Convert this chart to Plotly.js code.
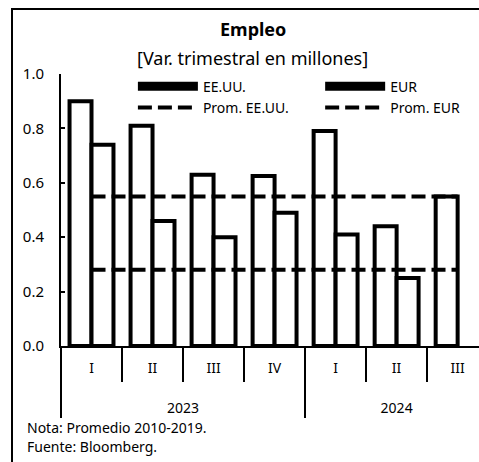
<!DOCTYPE html>
<html>
<head>
<meta charset="utf-8">
<script src="https://cdn.plot.ly/plotly-3.0.1.min.js"></script>
<style>
  html, body { margin: 0; padding: 0; background: #fff; }
  #wrap { position: relative; width: 479px; height: 462px; overflow: hidden; }
  #chart { position: absolute; left: 0; top: 0; width: 479px; height: 462px; }
  #frame { position: absolute; left: 11px; top: 8px; width: 470px; height: 460px;
           border-left: 2px solid #000; border-top: 2px solid #000; pointer-events: none; }
</style>
</head>
<body>
<div id="wrap">
  <div id="chart"></div>
  <div id="frame"></div>
</div>
<script>
// Data
const years    = ['2023', '2023', '2023', '2023', '2024', '2024', '2024'];
const quarters = ['I', 'II', 'III', 'IV', 'I', 'II', 'III'];
const eeuu     = [0.90, 0.81, 0.63, 0.625, 0.79, 0.44, 0.55];
const eur      = [0.74, 0.46, 0.40, 0.49, 0.41, 0.25, null];
const promEEUU = [0.55, 0.55, 0.55, 0.55, 0.55, 0.55, 0.55];
const promEUR  = [0.28, 0.28, 0.28, 0.28, 0.28, 0.28, 0.28];
const yTicks   = [0.0, 0.2, 0.4, 0.6, 0.8, 1.0];

const FONT = "'Noto Sans', 'DejaVu Sans', sans-serif";
// multicategory x: the quarter row gets a blank second line so the year row sits lower
const x = [years, quarters.map(q => q + '<br><span style="font-size:34px"> </span>')];

const traces = [
  { type: 'bar', x: x, y: eeuu, name: 'EE.UU.', showlegend: false,
    marker: { color: '#ffffff', line: { color: '#000', width: 4 } } },
  { type: 'bar', x: x, y: eur, name: 'EUR', showlegend: false,
    marker: { color: '#ffffff', line: { color: '#000', width: 4 } } },
  // legend entries for the bars
  { type: 'scatter', mode: 'lines', x: [null], y: [null], name: 'EE.UU.', legend: 'legend',
    line: { color: '#000', width: 9 }, legendrank: 1, hoverinfo: 'skip' },
  { type: 'scatter', mode: 'lines', x: [null], y: [null], name: 'EUR', legend: 'legend2',
    line: { color: '#000', width: 9 }, legendrank: 1, hoverinfo: 'skip' },
  { type: 'scatter', mode: 'lines', x: x, y: promEEUU, name: 'Prom. EE.UU.', legend: 'legend',
    line: { color: '#000', width: 4, dash: '14px,6px' }, legendrank: 2 },
  { type: 'scatter', mode: 'lines', x: x, y: promEUR, name: 'Prom. EUR', legend: 'legend2',
    line: { color: '#000', width: 4, dash: '14px,6px' }, legendrank: 2 }
];

const legendBase = {
  orientation: 'v', xanchor: 'left', y: 1.012, yanchor: 'top',
  itemwidth: 60, bgcolor: 'rgba(0,0,0,0)', borderwidth: 0,
  font: { family: FONT, size: 14, color: '#000' },
  tracegroupgap: 0, itemclick: false
};

const layout = {
  width: 479, height: 462,
  margin: { l: 61, r: 0, t: 74, b: 116, pad: 0 },
  paper_bgcolor: '#fff', plot_bgcolor: '#fff',
  font: { family: FONT, color: '#000', size: 13 },
  barmode: 'group', bargap: 0.28, bargroupgap: 0,
  showlegend: true,
  legend: Object.assign({}, legendBase, { x: 0.172 }),
  legend2: Object.assign({}, legendBase, { x: 0.62 }),
  xaxis: {
    type: 'multicategory', range: [-0.5, 6.35],
    showline: true, linecolor: '#000', linewidth: 2,
    ticks: 'outside', tickson: 'boundaries', ticklen: 34, tickwidth: 2, tickcolor: '#000',
    ticklabelstandoff: 8,
    showdividers: true, dividercolor: '#000', dividerwidth: 2,
    showgrid: false, zeroline: false,
    tickfont: { family: FONT, size: 14, color: '#000' }
  },
  yaxis: {
    range: [0, 1.0], tickvals: yTicks, tickformat: '.1f',
    showline: true, linecolor: '#000', linewidth: 2,
    ticks: 'inside', ticklen: 4, tickwidth: 2, tickcolor: '#000',
    ticklabelstandoff: 12,
    showgrid: false, zeroline: false,
    tickfont: { family: FONT, size: 15, color: '#000' }
  },
  annotations: [
    { text: '<b>Empleo</b>', xref: 'paper', yref: 'paper', x: 0.459, y: 1.165,
      xanchor: 'center', yanchor: 'middle',
      showarrow: false, font: { family: FONT, size: 18, color: '#000' } },
    { text: '[Var. trimestral en millones]', xref: 'paper', yref: 'paper', x: 0.459, y: 1.059,
      xanchor: 'center', yanchor: 'middle',
      showarrow: false, font: { family: FONT, size: 18, color: '#000' } },
    { text: 'Nota: Promedio 2010-2019.', xref: 'paper', yref: 'paper', x: -0.086, y: -0.301,
      xanchor: 'left', yanchor: 'middle',
      showarrow: false, font: { family: FONT, size: 14, color: '#000' } },
    { text: 'Fuente: Bloomberg.', xref: 'paper', yref: 'paper', x: -0.086, y: -0.371,
      xanchor: 'left', yanchor: 'middle',
      showarrow: false, font: { family: FONT, size: 14, color: '#000' } }
  ]
};

Plotly.newPlot('chart', traces, layout, { displayModeBar: false, staticPlot: true });
</script>
</body>
</html>
